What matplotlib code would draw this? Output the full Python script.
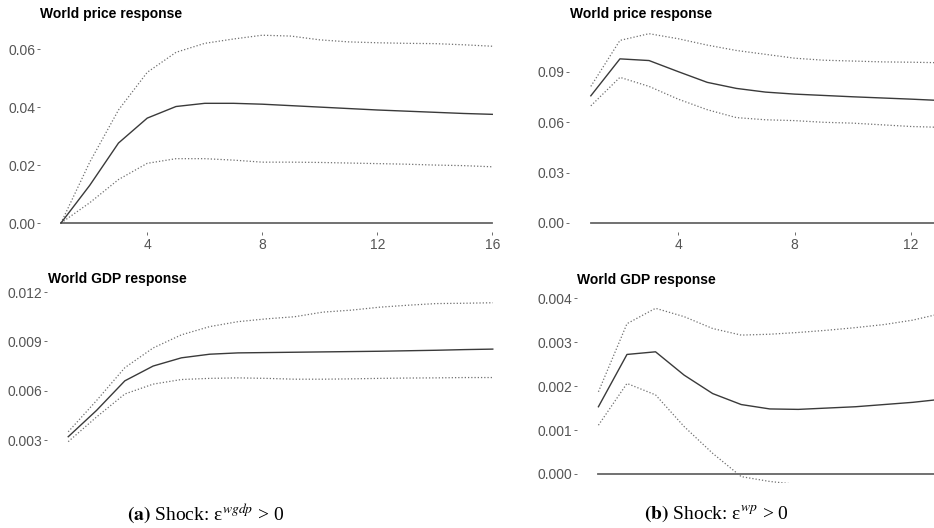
import numpy as np
import matplotlib

matplotlib.use("Agg")
import matplotlib.pyplot as plt

plt.rcParams["font.family"] = ["Liberation Sans", "DejaVu Sans"]
plt.rcParams["mathtext.fontset"] = "stix"

# horizons
H_A = list(range(1, 17))
H_B = list(range(1, 14))

# (a) shock wgdp: world price response
pa_mid = [0.0, 0.013, 0.0276, 0.0362, 0.0402, 0.0413, 0.0413, 0.0410, 0.0405,
          0.0400, 0.0395, 0.0390, 0.0386, 0.0382, 0.0378, 0.0375]
pa_hi = [0.0, 0.021, 0.039, 0.052, 0.0589, 0.0620, 0.0635, 0.0648, 0.0645,
         0.0632, 0.0625, 0.0622, 0.0620, 0.0619, 0.0615, 0.0610]
pa_lo = [0.0, 0.007, 0.015, 0.0206, 0.0222, 0.0222, 0.0217, 0.0210, 0.0210,
         0.0209, 0.0207, 0.0205, 0.0203, 0.0200, 0.0198, 0.0194]

# (a) shock wgdp: world GDP response
ga_mid = [0.0032, 0.0048, 0.0066, 0.0075, 0.0080, 0.00822, 0.0083, 0.00832,
          0.00834, 0.00836, 0.00838, 0.0084, 0.00843, 0.00846, 0.0085, 0.00853]
ga_hi = [0.0035, 0.0054, 0.0074, 0.0086, 0.0094, 0.0099, 0.0102, 0.01037,
         0.0105, 0.01078, 0.0109, 0.01108, 0.0112, 0.0113, 0.01132, 0.01135]
ga_lo = [0.0029, 0.0044, 0.0058, 0.0064, 0.00668, 0.00675, 0.00678, 0.00675,
         0.0067, 0.0067, 0.00672, 0.00675, 0.00677, 0.00678, 0.0068, 0.0068]

# (b) shock wp: world price response
pb_mid = [0.0758, 0.0978, 0.0968, 0.0902, 0.0838, 0.0802, 0.0780, 0.0768,
          0.0760, 0.0752, 0.0745, 0.0738, 0.0730]
pb_hi = [0.0814, 0.1088, 0.1128, 0.1098, 0.1060, 0.1028, 0.1005, 0.0982,
         0.0970, 0.0965, 0.0960, 0.0958, 0.0955]
pb_lo = [0.0698, 0.0868, 0.0814, 0.0738, 0.0675, 0.0628, 0.0615, 0.0610,
         0.0600, 0.0595, 0.0585, 0.0575, 0.0570]

# (b) shock wp: world GDP response
gb_mid = [0.00153, 0.00272, 0.00278, 0.00225, 0.00183, 0.00158, 0.00148,
          0.00147, 0.0015, 0.00153, 0.00158, 0.00163, 0.0017]
gb_hi = [0.00187, 0.00342, 0.00377, 0.00358, 0.00331, 0.00316, 0.00318,
         0.00322, 0.00327, 0.00333, 0.0034, 0.0035, 0.00365]
gb_lo = [0.00111, 0.00206, 0.0018, 0.00108, 0.00047, -0.00006, -0.00017,
         -0.00024, -0.00027, -0.00028, -0.00028, -0.00027, -0.00026]

W, Hpx = 934, 528
fig = plt.figure(figsize=(W / 100, Hpx / 100), dpi=100)
fig.patch.set_facecolor("white")

TICK_C = "#555555"
LINE_C = "#3a3a3a"
BAND_C = "#707070"


def panel(box, xlim, ylim, yticks, yfmt, title, x, mid, hi, lo, zero=True,
          xticks=True, title_x=None, title_y=None):
    l, r, t, b = box
    ax = fig.add_axes([l / W, 1 - b / Hpx, (r - l) / W, (b - t) / Hpx])
    ax.set_facecolor("none")
    for s in ax.spines.values():
        s.set_visible(False)
    if zero:
        ax.plot([x[0], 16], [0, 0], color="#666666", lw=1.3)
    ax.plot(x, hi, color=BAND_C, lw=0.9, ls=(0, (1, 1.6)))
    ax.plot(x, lo, color=BAND_C, lw=0.9, ls=(0, (1, 1.6)))
    ax.plot(x, mid, color=LINE_C, lw=1.0)
    ax.set_yticks(yticks)
    ax.set_yticklabels([yfmt % v for v in yticks])
    if xticks:
        ax.set_xticks([4, 8, 12, 16])
    else:
        ax.set_xticks([])
    ax.set_xlim(*xlim)
    ax.set_ylim(*ylim)
    ax.tick_params(colors=TICK_C, labelcolor=TICK_C, labelsize=10,
                   length=2.5, width=0.6, pad=1)
    ax.tick_params(axis="x", pad=2)
    fig.text(title_x / W, 1 - title_y / Hpx, title, fontsize=10,
             fontweight="bold", color="black", ha="left", va="center")
    return ax


panel((40, 515, 30, 232), (0.27, 16.79), (-0.0031, 0.0666),
      [0.0, 0.02, 0.04, 0.06], "%.2f", "World price response",
      H_A, pa_mid, pa_hi, pa_lo, title_x=40, title_y=14)
panel((569, 934, 30, 232), (0.25, 12.79), (-0.00537, 0.1150),
      [0.0, 0.03, 0.06, 0.09], "%.2f", "World price response",
      H_B, pb_mid, pb_hi, pb_lo, title_x=570, title_y=14)
panel((47, 514, 285, 484), (0.25, 16.75), (0.000324, 0.01243),
      [0.003, 0.006, 0.009, 0.012], "%.3f", "World GDP response",
      H_A, ga_mid, ga_hi, ga_lo, zero=False, xticks=False,
      title_x=48, title_y=279)
panel((577, 934, 285, 483), (0.25, 12.75), (-0.000205, 0.0043),
      [0.0, 0.001, 0.002, 0.003, 0.004], "%.3f", "World GDP response",
      H_B, gb_mid, gb_hi, gb_lo, xticks=False, title_x=577, title_y=280)

fig.text(206 / W, 1 - 514 / Hpx,
         r"$\mathbf{(a)}$ Shock: ε${}^{wgdp}$ > 0",
         family="Liberation Serif", fontsize=14, ha="center", va="center")
fig.text(716 / W, 1 - 514 / Hpx,
         r"$\mathbf{(b)}$ Shock: ε${}^{wp}$ > 0",
         family="Liberation Serif", fontsize=14, ha="center", va="center")

fig.savefig("out.png", dpi=100, facecolor="white")
